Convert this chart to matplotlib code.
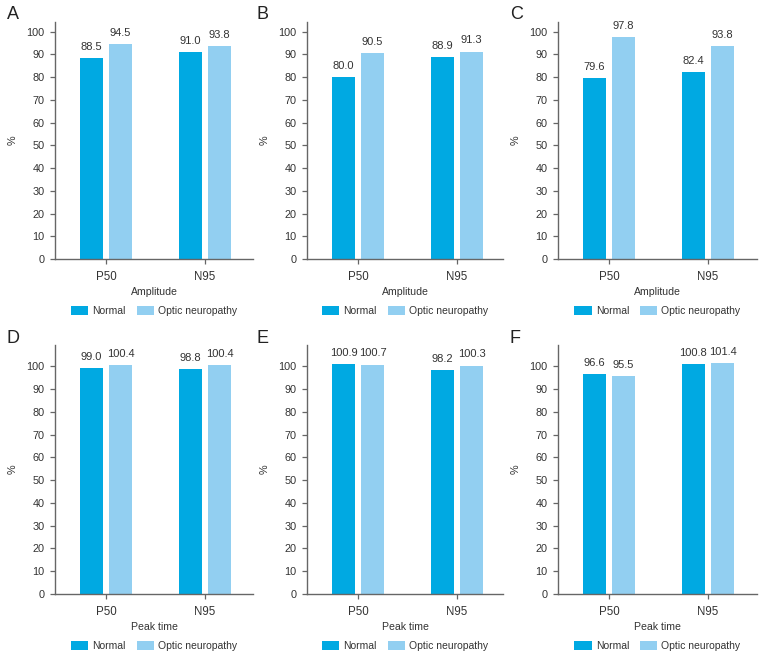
import matplotlib
matplotlib.use("Agg")
from matplotlib import pyplot as plt
import numpy as np

plt.rcParams['font.family'] = ['Liberation Sans', 'DejaVu Sans']

# data
groups = ["P50", "N95"]
series = ["Normal", "Optic neuropathy"]
panels = ["A", "B", "C", "D", "E", "F"]
xlabels = ["Amplitude", "Amplitude", "Amplitude", "Peak time", "Peak time", "Peak time"]
normal = [[88.5, 91.0], [80.0, 88.9], [79.6, 82.4],
          [99.0, 98.8], [100.9, 98.2], [96.6, 100.8]]
optic = [[94.5, 93.8], [90.5, 91.3], [97.8, 93.8],
         [100.4, 100.4], [100.7, 100.3], [95.5, 101.4]]

c_normal = "#00A9E2"
c_optic = "#92CFF1"
W, H = 763, 658
fig = plt.figure(figsize=(W / 100, H / 100), dpi=100)

lefts = [55, 307, 558]
widths = [198, 196, 199]
rows = [(22, 259, 104.3), (345, 594, 109.3)]  # top px, bottom px, ylim top
letter_x = [7, 257, 510]
letter_y = [19, 343]

x = np.arange(len(groups))
bw = 0.232
off = 0.147
for i in range(6):
    r, c = divmod(i, 3)
    top, bot, ymax = rows[r]
    hpx = bot - top
    ax = fig.add_axes([lefts[c] / W, 1 - bot / H, widths[c] / W, hpx / H])
    b1 = ax.bar(x - off, normal[i], bw, color=c_normal, label=series[0])
    b2 = ax.bar(x + off, optic[i], bw, color=c_optic, label=series[1])
    for bars, vals in ((b1, normal[i]), (b2, optic[i])):
        for b, v in zip(bars, vals):
            ax.annotate("%.1f" % v, (b.get_x() + b.get_width() / 2, v),
                        xytext=(0, 4.5), textcoords="offset points",
                        ha="center", va="bottom", fontsize=8, color="#333333")
    ax.set_ylim(0, ymax)
    ax.set_yticks(range(0, 101, 10))
    ax.set_xlim(-51 / 99, -51 / 99 + widths[c] / 99)
    ax.set_xticks(x)
    ax.set_xticklabels(groups)
    for s in ("top", "right"):
        ax.spines[s].set_visible(False)
    for s in ("left", "bottom"):
        ax.spines[s].set_color("#666666")
        ax.spines[s].set_linewidth(1.0)
    ax.tick_params(axis="both", direction="out", length=3.6, width=0.9,
                   color="#666666", labelsize=7.8, labelcolor="#333333", pad=4)
    ax.tick_params(axis="x", labelsize=8.3, pad=5)
    ax.set_ylabel("%", fontsize=7.8, color="#333333")
    ax.yaxis.set_label_coords(-37 / widths[c], 0.5)
    ax.set_xlabel(xlabels[i], fontsize=7.6, color="#333333")
    ax.xaxis.set_label_coords(0.5, -28 / hpx)
    ax.legend(loc="center", bbox_to_anchor=(0.5, -52 / hpx), ncol=2,
              frameon=False, fontsize=7.5, handlelength=1.65, handleheight=0.85,
              columnspacing=1.05, handletextpad=0.4, labelcolor="#333333")
    fig.text(letter_x[c] / W, 1 - letter_y[r] / H, panels[i], fontsize=13,
             va="baseline", ha="left", color="#222222")

plt.savefig("out.png", dpi=100)
